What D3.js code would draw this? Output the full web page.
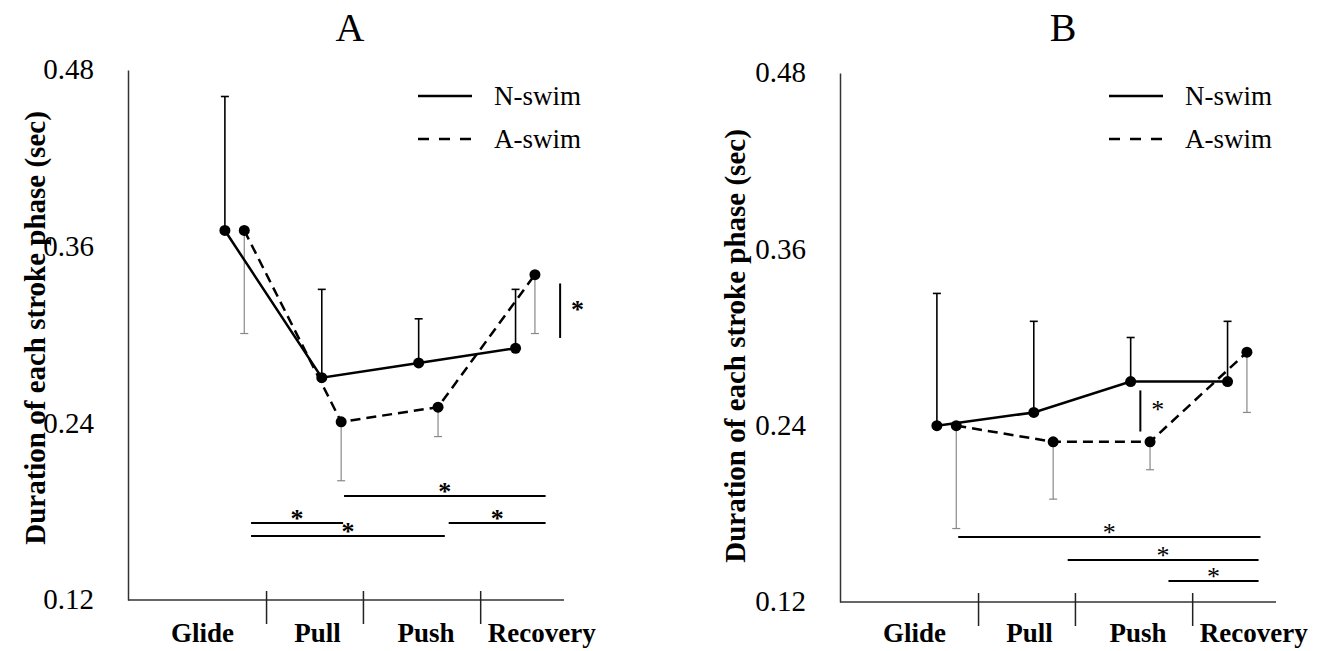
<!DOCTYPE html>
<html>
<head>
<meta charset="utf-8">
<script src="https://cdn.jsdelivr.net/npm/d3@7"></script>
<style>
  body { margin: 0; background: #fff; }
  text { font-family: "Liberation Serif", "Times New Roman", serif; fill: #000; }
</style>
</head>
<body>
<svg width="1318" height="651"></svg>
<script>
// categories and ticks
var phases = ["Glide", "Pull", "Push", "Recovery"];
var yTicks = [0.12, 0.24, 0.36, 0.48];
var seriesNames = ["N-swim", "A-swim"];

// panel A values (mean and SD, sec)
var nMeanA = [0.371, 0.271, 0.281, 0.291];
var nSdA   = [0.091, 0.060, 0.030, 0.040];
var aMeanA = [0.371, 0.241, 0.251, 0.341];
var aSdA   = [0.070, 0.040, 0.020, 0.040];
var pairsA = [["Pull", "Recovery"], ["Glide", "Pull"], ["Push", "Recovery"], ["Glide", "Push"]];
var betweenA = ["Recovery"];

// panel B values (mean and SD, sec)
var nMeanB = [0.240, 0.249, 0.270, 0.270];
var nSdB   = [0.090, 0.062, 0.030, 0.041];
var aMeanB = [0.240, 0.229, 0.229, 0.290];
var aSdB   = [0.070, 0.039, 0.019, 0.041];
var pairsB = [["Glide", "Recovery"], ["Pull", "Recovery"], ["Push", "Recovery"]];
var betweenB = ["Push"];

var svg = d3.select("svg");

// layout of each panel (pixels, category-index units for x)
var panels = [
  { title: "A", n: nMeanA, nSd: nSdA, a: aMeanA, aSd: aSdA, pairs: pairsA, between: betweenA,
    left: 128, right: 564, top: 70, bottom: 600, titleX: 350, yTitleX: 45, yTitleY: 328, legendX: 418,
    pairPos: [[1.23, 3.31, 0.1906], [0.27, 1.22, 0.1723], [2.31, 3.31, 0.1723], [0.27, 2.27, 0.1634]],
    betweenDx: 0.46, starWeight: "bold", starSize: 26 },
  { title: "B", n: nMeanB, nSd: nSdB, a: aMeanB, aSd: aSdB, pairs: pairsB, between: betweenB,
    left: 840, right: 1276, top: 73, bottom: 602, titleX: 1063, yTitleX: 745, yTitleY: 346, legendX: 1109,
    pairPos: [[0.22, 3.34, 0.1642], [1.35, 3.32, 0.1486], [2.39, 3.32, 0.1343]],
    betweenDx: 0.10, starWeight: "normal", starSize: 26 }
];

var aOffset = 0.2;               // A-swim points sit a bit right of N-swim
var boundaries = [0.43, 1.43, 2.64];
var labelPos = [-0.23, 0.955, 2.075, 3.27];

panels.forEach(function(p) {
  var x = d3.scaleLinear().domain([-1, 3.5]).range([p.left, p.right]);
  var y = d3.scaleLinear().domain([0.12, 0.48]).range([p.bottom, p.top]);
  var g = svg.append("g");

  // title
  g.append("text").attr("x", p.titleX).attr("y", 41)
    .attr("text-anchor", "middle").style("font-size", "40px").text(p.title);

  // y axis
  var yAxis = g.append("g").attr("transform", "translate(" + p.left + ",0)")
    .call(d3.axisLeft(y).tickValues(yTicks).tickSize(0).tickPadding(34)
      .tickFormat(d3.format(".2f")));
  yAxis.select(".domain").attr("stroke", "#333").attr("stroke-width", 1.5);
  yAxis.selectAll("text").style("font-size", "29px").attr("font-family", null).attr("dy", "0.3em");

  // y title
  g.append("text")
    .attr("transform", "translate(" + p.yTitleX + "," + p.yTitleY + ") rotate(-90)")
    .attr("text-anchor", "middle").style("font-size", "29px").style("font-weight", "bold")
    .text("Duration of each stroke phase (sec)");

  // x axis line, phase boundaries and labels
  g.append("line").attr("x1", x(-1)).attr("x2", x(3.5))
    .attr("y1", y(0.12)).attr("y2", y(0.12)).attr("stroke", "#333").attr("stroke-width", 1.5);
  g.selectAll(".bound").data(boundaries).enter().append("line")
    .attr("x1", function(d) { return x(d); }).attr("x2", function(d) { return x(d); })
    .attr("y1", y(0.12) - 9).attr("y2", y(0.12) + 24)
    .attr("stroke", "#222").attr("stroke-width", 1.5);
  g.selectAll(".phase").data(phases).enter().append("text")
    .attr("x", function(d, i) { return x(labelPos[i]); }).attr("y", 642)
    .attr("text-anchor", "middle").style("font-size", "27px").style("font-weight", "bold")
    .text(function(d) { return d; });

  var line = d3.line().x(function(d) { return x(d.i); }).y(function(d) { return y(d.v); });
  var nPts = p.n.map(function(v, i) { return { i: i, v: v, sd: p.nSd[i] }; });
  var aPts = p.a.map(function(v, i) { return { i: i + aOffset, v: v, sd: p.aSd[i] }; });

  // error bars: N-swim upward, A-swim downward
  function errBars(pts, dir, color, w) {
    var eb = g.append("g").attr("stroke", color).attr("stroke-width", w);
    eb.selectAll(".v").data(pts).enter().append("line")
      .attr("x1", function(d) { return x(d.i); }).attr("x2", function(d) { return x(d.i); })
      .attr("y1", function(d) { return y(d.v); })
      .attr("y2", function(d) { return y(d.v + dir * d.sd); });
    eb.selectAll(".c").data(pts).enter().append("line")
      .attr("x1", function(d) { return x(d.i) - 4; }).attr("x2", function(d) { return x(d.i) + 4; })
      .attr("y1", function(d) { return y(d.v + dir * d.sd); })
      .attr("y2", function(d) { return y(d.v + dir * d.sd); });
  }
  errBars(nPts, 1, "#000", 1.6);
  errBars(aPts, -1, "#888", 1.2);

  g.append("path").datum(nPts).attr("d", line)
    .attr("fill", "none").attr("stroke", "#000").attr("stroke-width", 2.5);
  g.append("path").datum(aPts).attr("d", line)
    .attr("fill", "none").attr("stroke", "#000").attr("stroke-width", 2.5)
    .attr("stroke-dasharray", "10,6");

  g.selectAll(".m").data(nPts.concat(aPts)).enter().append("circle")
    .attr("cx", function(d) { return x(d.i); }).attr("cy", function(d) { return y(d.v); })
    .attr("r", 5.5).attr("fill", "#000");

  // significance between phases
  p.pairs.forEach(function(pr, k) {
    var pos = p.pairPos[k];
    g.append("line").attr("x1", x(pos[0])).attr("x2", x(pos[1]))
      .attr("y1", y(pos[2])).attr("y2", y(pos[2])).attr("stroke", "#000").attr("stroke-width", 2);
    g.append("text").attr("x", (x(pos[0]) + x(pos[1])) / 2).attr("y", y(pos[2]) + 4)
      .attr("text-anchor", "middle").style("font-size", p.starSize + "px").style("font-weight", p.starWeight)
      .text("*");
  });

  // significance between conditions
  p.between.forEach(function(ph) {
    var i = phases.indexOf(ph);
    var lo = Math.min(p.n[i], p.a[i]) + 0.007, hi = Math.max(p.n[i], p.a[i]) - 0.006;
    g.append("line").attr("x1", x(i + p.betweenDx)).attr("x2", x(i + p.betweenDx))
      .attr("y1", y(lo)).attr("y2", y(hi)).attr("stroke", "#000").attr("stroke-width", 2);
    g.append("text").attr("x", x(i + p.betweenDx + 0.18)).attr("y", (y(lo) + y(hi)) / 2 + 7)
      .attr("text-anchor", "middle").style("font-size", p.starSize + "px").style("font-weight", p.starWeight)
      .text("*");
  });

  // legend
  var lg = g.append("g").attr("transform", "translate(" + p.legendX + ",0)");
  lg.selectAll(".l").data(seriesNames).enter().append("line")
    .attr("x1", 0).attr("x2", 54)
    .attr("y1", function(d, i) { return 96 + i * 43; }).attr("y2", function(d, i) { return 96 + i * 43; })
    .attr("stroke", "#000").attr("stroke-width", 2.5)
    .attr("stroke-dasharray", function(d, i) { return i ? "11,10" : null; });
  lg.selectAll(".t").data(seriesNames).enter().append("text")
    .attr("x", 76).attr("y", function(d, i) { return 105 + i * 43; })
    .style("font-size", "27px").text(function(d) { return d; });
});
</script>
</body>
</html>
